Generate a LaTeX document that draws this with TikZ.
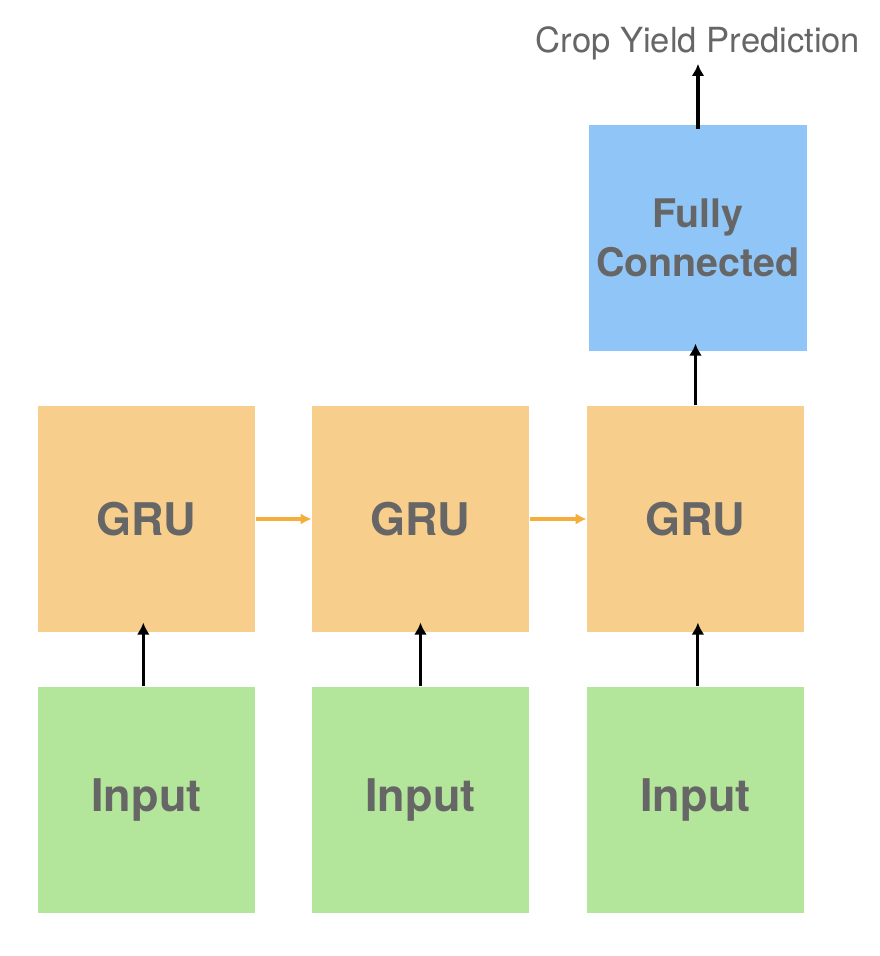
\documentclass[tikz,border=0pt]{standalone}
\usepackage{fontspec}
\setmainfont{TeX Gyre Heros}
\usetikzlibrary{arrows.meta}

\definecolor{gruorange}{HTML}{F7CE8C}
\definecolor{ingreen}{HTML}{B3E59A}
\definecolor{fcblue}{HTML}{90C5F8}
\definecolor{txtgray}{HTML}{666666}
\definecolor{arrorange}{HTML}{F5AE3A}

\begin{document}
\begin{tikzpicture}[x=0.0125cm,y=-0.0125cm,
    block/.style={minimum width=2.7125cm,minimum height=2.825cm,inner sep=0pt,
      text=txtgray,font=\fontsize{16}{19}\selectfont\bfseries,align=center},
    gru/.style={block,fill=gruorange},
    inp/.style={block,fill=ingreen},
    fc/.style={block,fill=fcblue,font=\fontsize{14}{17.5}\selectfont\bfseries},
    up/.style={-{Latex[length=4.3pt,width=4.6pt]},line width=1.1pt,black},
    side/.style={-{Latex[length=3.8pt,width=4pt]},line width=1.1pt,arrorange}]
  \useasboundingbox (0,0) rectangle (880,956);
  \node[inp] (in1) at (146.5,800) {Input};
  \node[inp] (in2) at (420.5,800) {Input};
  \node[inp] (in3) at (695.5,800) {Input};
  \node[gru] (g1) at (146.5,519) {GRU};
  \node[gru] (g2) at (420.5,519) {GRU};
  \node[gru] (g3) at (695.5,519) {GRU};
  \node[fc] (fc) at (698,238) {Fully\\Connected};
  \node[text=txtgray,font=\fontsize{12.3}{14}\selectfont,anchor=base] (out) at (698,52) {Crop Yield Prediction};
  \draw[up] ([xshift=-0.04cm]in1.north) -- ([xshift=-0.04cm,yshift=0.125cm]g1.south);
  \draw[up] (in2.north) -- ([yshift=0.125cm]g2.south);
  \draw[up] ([xshift=0.03cm]in3.north) -- ([xshift=0.03cm,yshift=0.125cm]g3.south);
  \draw[side] (g1.east) -- (g2.west);
  \draw[side] (g2.east) -- (g3.west);
  \draw[up] (g3.north) -- ([yshift=0.1cm]g3.north |- fc.south);
  \draw[up] ([yshift=-0.06cm]fc.north) -- ([yshift=0.07cm]out.south);
\end{tikzpicture}
\end{document}
